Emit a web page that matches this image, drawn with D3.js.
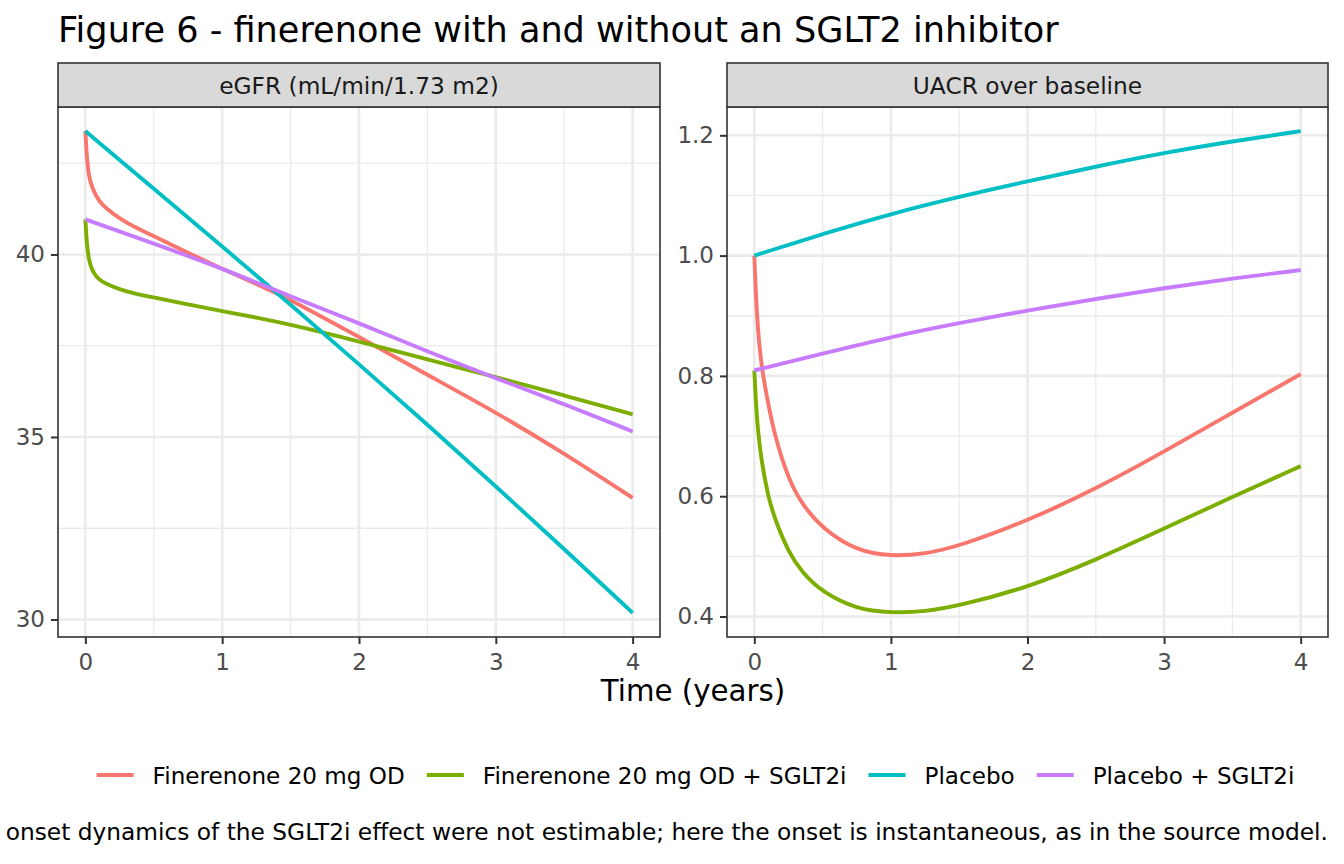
<!DOCTYPE html>
<html>
<head>
<meta charset="utf-8">
<script src="https://cdn.jsdelivr.net/npm/d3@7"></script>
<style>
  body { margin: 0; background: #fff; }
  svg { display: block; font-family: "DejaVu Sans", sans-serif; }
</style>
</head>
<body>
<div id="chart"></div>
<script>
// times (years) - denser near 0 for the finerenone curves
var timeFine = [0, 0.01, 0.025, 0.05, 0.1, 0.15, 0.25, 0.35, 0.5, 0.75, 1, 1.25, 1.5, 2, 2.5, 3, 3.5, 4];
var timeCoarse = [0, 0.5, 1, 1.5, 2, 2.5, 3, 3.5, 4];

// eGFR (mL/min/1.73 m2)
var egfrFinerenone      = [43.38, 42.7, 42.13, 41.82, 41.45, 41.27, 40.98, 40.77, 40.5, 40.05, 39.6, 39.2, 38.76, 37.74, 36.7, 35.68, 34.55, 33.33];
var egfrFinerenoneSglt2 = [40.96, 40.3, 39.85, 39.54, 39.3, 39.2, 39.04, 38.94, 38.82, 38.63, 38.45, 38.27, 38.08, 37.62, 37.12, 36.64, 36.14, 35.62];
var egfrPlacebo         = [43.38, 41.8, 40.22, 38.63, 36.99, 35.34, 33.65, 31.93, 30.18];
var egfrPlaceboSglt2    = [40.96, 40.3, 39.62, 38.85, 38.12, 37.34, 36.61, 35.9, 35.15];

// UACR over baseline
var uacrFinerenone      = [1.0, 0.94, 0.88, 0.818, 0.755, 0.7, 0.628, 0.586, 0.546, 0.509, 0.5, 0.504, 0.517, 0.559, 0.612, 0.674, 0.739, 0.803];
var uacrFinerenoneSglt2 = [0.809, 0.762, 0.712, 0.662, 0.6, 0.562, 0.507, 0.473, 0.44, 0.412, 0.406, 0.408, 0.418, 0.448, 0.494, 0.546, 0.599, 0.65];
var uacrPlacebo         = [1.0, 1.036, 1.0695, 1.098, 1.1236, 1.148, 1.171, 1.19, 1.207];
var uacrPlaceboSglt2    = [0.809, 0.837, 0.865, 0.888, 0.909, 0.928, 0.946, 0.962, 0.976];

var seriesNames = ["Finerenone 20 mg OD", "Finerenone 20 mg OD + SGLT2i", "Placebo", "Placebo + SGLT2i"];
var seriesColors = ["#F8766D", "#7CAE00", "#00BFC4", "#C77CFF"];
var panelTitles = ["eGFR (mL/min/1.73 m2)", "UACR over baseline"];

var xTicks = [0, 1, 2, 3, 4];
var xMinor = [0.5, 1.5, 2.5, 3.5];
var egfrTicks = [30, 35, 40];
var egfrMinor = [32.5, 37.5, 42.5];
var uacrTicks = [0.4, 0.6, 0.8, 1.0, 1.2];
var uacrMinor = [0.5, 0.7, 0.9, 1.1];

var titleText = "Figure 6 - finerenone with and without an SGLT2 inhibitor";
var xTitle = "Time (years)";
var captionText = "onset dynamics of the SGLT2i effect were not estimable; here the onset is instantaneous, as in the source model.";

function pairs(times, vals) {
  return times.map(function(t, i) { return { t: t, v: vals[i] }; });
}

var panels = [
  {
    title: panelTitles[0],
    x0: 58, x1: 660,
    ticks: egfrTicks, minor: egfrMinor, fmt: d3.format("d"),
    series: [
      pairs(timeFine, egfrFinerenone),
      pairs(timeFine, egfrFinerenoneSglt2),
      pairs(timeCoarse, egfrPlacebo),
      pairs(timeCoarse, egfrPlaceboSglt2)
    ]
  },
  {
    title: panelTitles[1],
    x0: 727, x1: 1328,
    ticks: uacrTicks, minor: uacrMinor, fmt: d3.format(".1f"),
    series: [
      pairs(timeFine, uacrFinerenone),
      pairs(timeFine, uacrFinerenoneSglt2),
      pairs(timeCoarse, uacrPlacebo),
      pairs(timeCoarse, uacrPlaceboSglt2)
    ]
  }
];

var width = 1344, height = 864;
var stripTop = 63, stripBottom = 107, panelBottom = 637;
var smallFont = 23.3;

var svg = d3.select("#chart").append("svg")
    .attr("width", width)
    .attr("height", height);

svg.append("rect").attr("width", width).attr("height", height).attr("fill", "#fff");

svg.append("text")
    .attr("x", 58).attr("y", 42)
    .attr("font-size", 35.1)
    .attr("fill", "#000")
    .text(titleText);

panels.forEach(function(p) {
  var allVals = [];
  p.series.forEach(function(s) { s.forEach(function(d) { allVals.push(d.v); }); });
  var ext = d3.extent(allVals), pad = (ext[1] - ext[0]) * 0.05;

  var x = d3.scaleLinear().domain([-0.2, 4.2]).range([p.x0, p.x1]);
  var y = d3.scaleLinear().domain([ext[0] - pad, ext[1] + pad]).range([panelBottom, stripBottom]);

  var g = svg.append("g");

  // grid
  g.selectAll(".minx").data(xMinor).enter().append("line")
      .attr("x1", function(d) { return x(d); }).attr("x2", function(d) { return x(d); })
      .attr("y1", stripBottom).attr("y2", panelBottom)
      .attr("stroke", "#EBEBEB").attr("stroke-width", 1.3);
  g.selectAll(".miny").data(p.minor).enter().append("line")
      .attr("x1", p.x0).attr("x2", p.x1)
      .attr("y1", function(d) { return y(d); }).attr("y2", function(d) { return y(d); })
      .attr("stroke", "#EBEBEB").attr("stroke-width", 1.3);
  g.selectAll(".majx").data(xTicks).enter().append("line")
      .attr("x1", function(d) { return x(d); }).attr("x2", function(d) { return x(d); })
      .attr("y1", stripBottom).attr("y2", panelBottom)
      .attr("stroke", "#EBEBEB").attr("stroke-width", 2.6);
  g.selectAll(".majy").data(p.ticks).enter().append("line")
      .attr("x1", p.x0).attr("x2", p.x1)
      .attr("y1", function(d) { return y(d); }).attr("y2", function(d) { return y(d); })
      .attr("stroke", "#EBEBEB").attr("stroke-width", 2.6);

  // lines
  var line = d3.line()
      .x(function(d) { return x(d.t); })
      .y(function(d) { return y(d.v); })
      .curve(d3.curveBasis);

  p.series.forEach(function(s, i) {
    g.append("path")
        .datum(s)
        .attr("d", line)
        .attr("fill", "none")
        .attr("stroke", seriesColors[i])
        .attr("stroke-width", 3.9)
        .attr("stroke-linejoin", "round");
  });

  // panel border
  g.append("rect")
      .attr("x", p.x0).attr("y", stripBottom)
      .attr("width", p.x1 - p.x0).attr("height", panelBottom - stripBottom)
      .attr("fill", "none").attr("stroke", "#333333").attr("stroke-width", 1.6);

  // strip
  g.append("rect")
      .attr("x", p.x0).attr("y", stripTop)
      .attr("width", p.x1 - p.x0).attr("height", stripBottom - stripTop)
      .attr("fill", "#D9D9D9").attr("stroke", "#333333").attr("stroke-width", 1.6);
  g.append("text")
      .attr("x", (p.x0 + p.x1) / 2).attr("y", 93.5)
      .attr("text-anchor", "middle")
      .attr("font-size", smallFont)
      .attr("fill", "#1A1A1A")
      .text(p.title);

  // axes
  var xAxis = g.append("g")
      .attr("transform", "translate(0," + panelBottom + ")")
      .call(d3.axisBottom(x).tickValues(xTicks).tickSize(7).tickPadding(6).tickFormat(d3.format("d")));
  var yAxis = g.append("g")
      .attr("transform", "translate(" + p.x0 + ",0)")
      .call(d3.axisLeft(y).tickValues(p.ticks).tickSize(7).tickPadding(6).tickFormat(p.fmt));

  [xAxis, yAxis].forEach(function(a) {
    a.select(".domain").remove();
    a.selectAll(".tick line").attr("stroke", "#333333").attr("stroke-width", 2);
    a.selectAll(".tick text")
        .attr("fill", "#4D4D4D")
        .attr("font-size", 23)
        .attr("font-family", "DejaVu Sans");
  });
  xAxis.selectAll(".tick text").attr("dy", "0.88em");
});

// x axis title
svg.append("text")
    .attr("x", 693).attr("y", 701)
    .attr("text-anchor", "middle")
    .attr("font-size", 29.3)
    .attr("fill", "#000")
    .text(xTitle);

// legend
var legend = svg.append("g");
var keyW = 37, keyGap = 19, itemGap = 22;
var items = legend.selectAll(".item").data(seriesNames).enter().append("g");
items.append("line")
    .attr("x1", 0).attr("x2", keyW)
    .attr("y1", 0).attr("y2", 0)
    .attr("stroke", function(d, i) { return seriesColors[i]; })
    .attr("stroke-width", 3.9);
items.append("text")
    .attr("x", keyW + keyGap).attr("y", 8.5)
    .attr("font-size", 23.1)
    .attr("fill", "#000")
    .text(function(d) { return d; });

var widths = [];
items.each(function() {
  widths.push(keyW + keyGap + d3.select(this).select("text").node().getComputedTextLength());
});
var total = d3.sum(widths) + itemGap * (widths.length - 1);
var cx = 695.5 - total / 2;
items.attr("transform", function(d, i) {
  var off = cx + d3.sum(widths.slice(0, i)) + itemGap * i;
  return "translate(" + off + ",775)";
});

// caption, right-aligned
svg.append("text")
    .attr("x", 1328).attr("y", 840)
    .attr("text-anchor", "end")
    .attr("font-size", smallFont)
    .attr("fill", "#000")
    .text(captionText);
</script>
</body>
</html>
